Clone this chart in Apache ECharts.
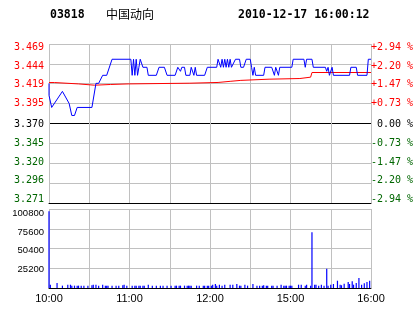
<!DOCTYPE html>
<html><head><meta charset="utf-8">
<script src="https://cdn.jsdelivr.net/npm/echarts@6/dist/echarts.min.js"></script>
<style>html,body{margin:0;padding:0;background:#fff;}#c{width:414px;height:314px;}</style>
</head><body><div id="c"></div>
<script>
// ---- data ----
const stockCode = '03818';
const stockName = '中国动向';
const stamp = '2010-12-17 16:00:12';
const priceMin = 3.271, priceMax = 3.469, priceStep = 0.02475;
const priceLabels = ['3.469','3.444','3.419','3.395','3.370','3.345','3.320','3.296','3.271']; // top -> bottom
const pctLabels = ['+2.94 %','+2.20 %','+1.47 %','+0.73 %',' 0.00 %','-0.73 %','-1.47 %','-2.20 %','-2.94 %'];
const volMax = 100800, volStep = 25200;
const volLabels = ['', '25200', '50400', '75600', '100800']; // bottom -> top
const timeTicks = [0, 60, 120, 180, 240];
const timeLabels = ['10:00', '11:00', '12:00', '15:00', '16:00'];

const priceMinutes = [0,0,2,10,15,17,19,21,32,35,37,40,43,47,61,62,63,64,65,66,67,68,70,73,74,80,82,86,88,94,96,97,98,99,101,102,105,106,107,108,109,110,116,118,125,126,127,128,129,130,131,132,133,134,135,136,137,139,142,143,145,147,150,151,152,153,154,160,161,166,168,169,170,171,172,181,182,190,191,192,196,197,206,207,208,209,211,212,224,225,229,230,237,238,240];
const priceValues = [3.42,3.405,3.39,3.41,3.395,3.38,3.38,3.39,3.39,3.42,3.42,3.43,3.43,3.45,3.45,3.43,3.45,3.43,3.45,3.43,3.44,3.45,3.44,3.44,3.43,3.43,3.44,3.44,3.43,3.43,3.44,3.44,3.435,3.44,3.44,3.43,3.43,3.44,3.44,3.43,3.44,3.43,3.43,3.44,3.44,3.45,3.45,3.44,3.45,3.44,3.45,3.44,3.45,3.44,3.45,3.44,3.44,3.45,3.45,3.44,3.44,3.45,3.45,3.44,3.43,3.44,3.43,3.43,3.44,3.44,3.43,3.44,3.44,3.43,3.44,3.44,3.45,3.45,3.44,3.45,3.45,3.44,3.44,3.435,3.44,3.43,3.44,3.43,3.43,3.44,3.44,3.43,3.43,3.45,3.45];

const avgMinutes = [0,4,5,22,23,34,35,46,47,59,60,105,106,126,127,135,136,143,144,164,165,187,188,195,196,240];
const avgValues = [3.421,3.421,3.4193,3.4193,3.4177,3.4177,3.4186,3.4186,3.4193,3.4193,3.4202,3.4202,3.4211,3.4211,3.4225,3.4225,3.4237,3.4237,3.4252,3.4252,3.426,3.426,3.4277,3.4277,3.4335,3.4335];

const volMinutes = [0,1,6,10,14,16,17,19,21,22,24,26,29,32,33,35,37,40,42,43,44,47,50,52,55,56,58,62,64,65,67,68,70,71,74,77,80,83,85,88,91,94,95,97,98,101,103,104,105,106,110,112,115,116,118,119,121,122,124,125,127,129,131,135,137,140,142,143,146,148,152,155,157,159,160,162,163,166,167,170,173,175,176,177,179,180,181,186,188,191,192,195,196,198,199,201,203,205,207,208,210,212,215,217,218,220,223,224,226,227,229,231,233,235,237,239];
const volValues = [98000,4200,6400,3000,4200,4200,3000,3000,3000,3000,3000,3000,3000,3500,4200,4200,3000,4200,3000,3000,3000,3000,3000,3000,3500,4200,3000,3000,3000,3000,3000,3000,3000,3000,4200,3000,3000,3000,3000,3000,3000,3000,3000,3000,3000,3000,3000,3000,3000,3000,3000,3000,3000,3000,3000,3000,3000,4200,5100,3000,4200,3000,4200,4200,4200,5100,3000,3000,4200,3000,5100,3000,3000,3000,3500,3000,3000,3000,3000,3000,4200,3000,3000,3000,3000,3000,3000,4200,4200,3000,4200,3000,71000,4200,4200,3000,4200,3000,24600,3000,4200,5100,9300,4200,3500,5500,7700,5100,8500,4200,6400,12800,4200,6000,7700,9300];

// ---- styles ----
const RED = '#ff0000', GREEN = '#006600', BLACK = '#000000', GREY = '#c0c0c0', BLUE = '#0000ff';
const MONO = '"DejaVu Sans Mono", monospace';
const SANS = '"Liberation Sans", Arial, sans-serif';
const priceShift = [3.5, 2.5, 1, 0, 0.5, 0.5, -1, -2.5, -3.5];
const volShift = [0, 1.5, 2.3, 3.7, 4.3];
function colorAt(k) { return k < 4 ? RED : (k === 4 ? BLACK : GREEN); }
function pad(s) { return [s > 0 ? 2 * s : 0, 0, s < 0 ? -2 * s : 0, 0]; }
const richP = {}, richQ = {}, richV = {};
priceShift.forEach((s, k) => {
  richP['p' + k] = { color: colorAt(k), fontFamily: MONO, fontSize: 10, padding: pad(s) };
  richQ['q' + k] = { color: colorAt(k), fontFamily: MONO, fontSize: 10, padding: pad(s) };
});
volShift.forEach((s, k) => {
  richV['v' + k] = { color: BLACK, fontFamily: SANS, fontSize: 9.5, padding: pad(s) };
});
const priceSplitColors = priceLabels.map((_, i) => (i === 0 || i === 4) ? BLACK : GREY);
const volSplitColors = volLabels.map((_, i) => i === 0 ? BLACK : GREY);

const chart = echarts.init(document.getElementById('c'), null, { renderer: 'canvas' });
chart.setOption({
  animation: false,
  backgroundColor: '#fff',
  graphic: [
    { type: 'text', left: 50, top: 9, style: { text: stockCode, font: 'bold 11.5px ' + MONO, fill: BLACK } },
    { type: 'text', left: 106, top: 8, style: { text: stockName, font: '12px "Noto Sans CJK SC"', fill: BLACK } },
    { type: 'text', left: 238, top: 9, style: { text: stamp, font: 'bold 11.5px ' + MONO, fill: BLACK } }
  ],
  grid: [
    { left: 49, right: 43, top: 44, height: 159, outerBoundsMode: 'none', containLabel: false },
    { left: 49, right: 43, top: 209, height: 79, outerBoundsMode: 'none', containLabel: false }
  ],
  xAxis: [
    { type: 'value', gridIndex: 0, min: 0, max: 240, interval: 30,
      axisLine: { show: true, onZero: false, lineStyle: { color: BLACK, width: 1 } },
      axisTick: { show: false }, axisLabel: { show: false },
      splitLine: { show: true, lineStyle: { color: GREY, width: 1 } } },
    { type: 'value', gridIndex: 1, min: 0, max: 240, interval: 30,
      axisLine: { show: true, onZero: false, lineStyle: { color: BLACK, width: 1 } },
      axisTick: { show: false },
      axisLabel: { show: true, margin: 5, color: BLACK, fontFamily: SANS, fontSize: 11,
        showMinLabel: true, showMaxLabel: true, hideOverlap: false,
        formatter: v => { const i = timeTicks.indexOf(Math.round(v)); return i >= 0 ? timeLabels[i] : ''; } },
      splitLine: { show: true, lineStyle: { color: GREY, width: 1 } } }
  ],
  yAxis: [
    { type: 'value', gridIndex: 0, min: priceMin, max: priceMax, interval: priceStep, position: 'left',
      axisLine: { show: false }, axisTick: { show: false },
      axisLabel: { show: true, margin: 5, showMinLabel: true, showMaxLabel: true, hideOverlap: false,
        fontFamily: MONO, fontSize: 10, rich: richP,
        formatter: v => { const k = Math.round((priceMax - v) / priceStep); return '{p' + k + '|' + priceLabels[k] + '}'; } },
      splitLine: { show: true, lineStyle: { color: priceSplitColors, width: 1 } } },
    { type: 'value', gridIndex: 0, min: priceMin, max: priceMax, interval: priceStep, position: 'right',
      axisLine: { show: false }, axisTick: { show: false },
      axisLabel: { show: true, margin: 0, showMinLabel: true, showMaxLabel: true, hideOverlap: false,
        fontFamily: MONO, fontSize: 10, rich: richQ,
        formatter: v => { const k = Math.round((priceMax - v) / priceStep); return '{q' + k + '|' + pctLabels[k] + '}'; } },
      splitLine: { show: false } },
    { type: 'value', gridIndex: 1, min: 0, max: volMax, interval: volStep, position: 'left',
      axisLine: { show: false }, axisTick: { show: false },
      axisLabel: { show: true, margin: 5, showMinLabel: true, showMaxLabel: true, hideOverlap: false,
        fontFamily: SANS, fontSize: 9.5, rich: richV,
        formatter: v => { const k = Math.round(v / volStep); return volLabels[k] ? '{v' + k + '|' + volLabels[k] + '}' : ''; } },
      splitLine: { show: true, lineStyle: { color: volSplitColors, width: 1 } } }
  ],
  series: [
    { type: 'line', xAxisIndex: 0, yAxisIndex: 0, showSymbol: false, silent: true,
      lineStyle: { color: RED, width: 1 }, itemStyle: { color: RED },
      data: avgMinutes.map((m, i) => [m, avgValues[i]]), z: 3 },
    { type: 'line', xAxisIndex: 0, yAxisIndex: 0, showSymbol: false, silent: true,
      lineStyle: { color: BLUE, width: 1 }, itemStyle: { color: BLUE },
      data: priceMinutes.map((m, i) => [m, priceValues[i]]), z: 4 },
    { type: 'bar', xAxisIndex: 1, yAxisIndex: 2, barWidth: 1.2, silent: true,
      itemStyle: { color: BLUE },
      data: volMinutes.map((m, i) => [m, volValues[i]]) }
  ]
});
</script>
</body></html>
